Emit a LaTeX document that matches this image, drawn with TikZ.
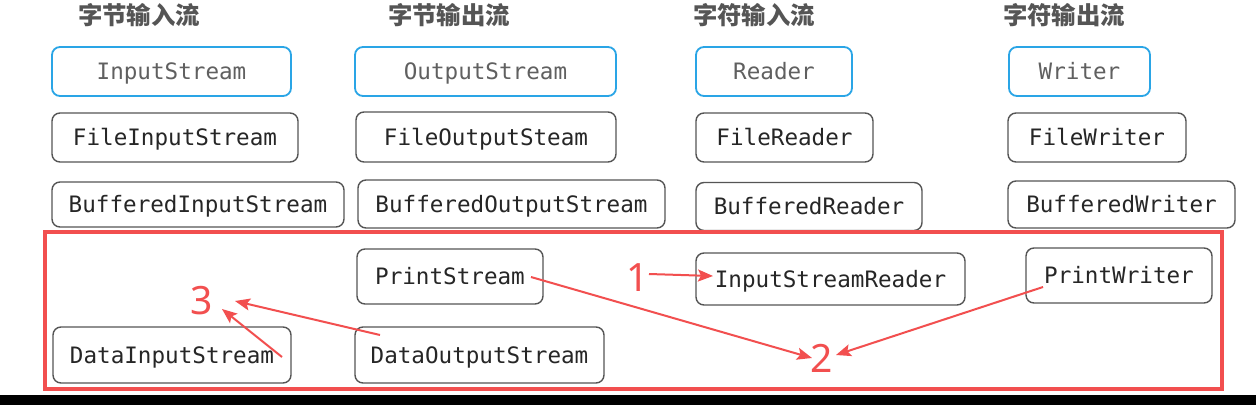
\documentclass[tikz,border=0pt]{standalone}
\usepackage{fontspec}
\setmonofont{DejaVu Sans Mono}
\newfontfamily\cjk{Noto Sans CJK SC}
\newfontfamily\numfont{Noto Sans}
\usetikzlibrary{arrows.meta}
\definecolor{boxblue}{HTML}{2AA5E6}
\definecolor{boxgrey}{HTML}{555555}
\definecolor{txtdark}{HTML}{262626}
\definecolor{txtgrey}{HTML}{606060}
\definecolor{headgrey}{HTML}{555555}
\definecolor{markred}{HTML}{F24F4F}
\tikzset{
  cls/.style={draw=boxgrey, line width=1.4pt, rounded corners=8pt, inner sep=0pt,
    text height=16.5pt, text depth=0pt,
    text=txtdark, font=\ttfamily\fontsize{22.6}{26}\selectfont},
  basecls/.style={cls, draw=boxblue, line width=1.8pt, text=txtgrey},
  head/.style={text=headgrey, font=\cjk\bfseries\fontsize{24.4}{28}\selectfont},
  num/.style={text=markred, font=\numfont\fontsize{39}{44}\selectfont, inner sep=0pt},
  redarrow/.style={draw=markred, line width=2pt, -{Stealth[length=15pt,width=12pt,inset=3pt]}}
}
\begin{document}
\begin{tikzpicture}[x=1pt,y=-1pt]
\useasboundingbox (0,0) rectangle (1256,405);
\fill[white] (0,0) rectangle (1256,405);
% headings
\node[head] (h1) at (139,15) {字节输入流};
\node[head] (h2) at (449,15) {字节输出流};
\node[head] (h3) at (754,15) {字符输入流};
\node[head] (h4) at (1064,15) {字符输出流};
% base classes
\node[basecls, minimum width=239, minimum height=49] (is) at (171.5,71.5) {InputStream};
\node[basecls, minimum width=261, minimum height=49] (os) at (485.5,71.5) {OutputStream};
\node[basecls, minimum width=156, minimum height=49] (rd) at (774,71.5) {Reader};
\node[basecls, minimum width=141, minimum height=49] (wr) at (1079.5,71.5) {Writer};
% file classes
\node[cls, minimum width=246, minimum height=49] (fis) at (175,137.5) {FileInputStream};
\node[cls, minimum width=260, minimum height=50] (fos) at (486,137) {FileOutputSteam};
\node[cls, minimum width=177, minimum height=49] (fr) at (784.5,137.5) {FileReader};
\node[cls, minimum width=178, minimum height=49] (fw) at (1097,137.5) {FileWriter};
% buffered classes
\node[cls, minimum width=292, minimum height=45] (bis) at (198,204.5) {BufferedInputStream};
\node[cls, minimum width=307, minimum height=48] (bos) at (511.5,204) {BufferedOutputStream};
\node[cls, minimum width=226, minimum height=48] (br) at (809,206.5) {BufferedReader};
\node[cls, minimum width=227, minimum height=47] (bw) at (1121.5,204.5) {BufferedWriter};
% red frame
\draw[markred, line width=4pt] (45,232) rectangle (1222,389);
% special classes
\node[cls, minimum width=186, minimum height=55] (ps) at (450,276.5) {PrintStream};
\node[cls, minimum width=269, minimum height=52] (isr) at (830.5,279) {InputStreamReader};
\node[cls, minimum width=186, minimum height=55] (pw) at (1119,275.5) {PrintWriter};
\node[cls, minimum width=238, minimum height=56] (dis) at (172,355) {DataInputStream};
\node[cls, minimum width=249, minimum height=56] (dos) at (479.5,355) {DataOutputStream};
% number labels
\node[num] (n1) at (638,278) {1};
\node[num] (n2) at (822,358) {2};
\node[num] (n3) at (202,301) {3};
% arrow end points
\coordinate (a1s) at (649,274);
\coordinate (a1e) at (713,276);
\coordinate (a2s) at (531,277);
\coordinate (a2e) at (812,358);
\coordinate (a2bs) at (1043,287);
\coordinate (a2be) at (836,355);
\coordinate (a3s) at (380,335);
\coordinate (a3e) at (235,301);
\coordinate (a3bs) at (282,357);
\coordinate (a3be) at (222,309);
\draw[redarrow] (a1s) -- (a1e);
\draw[redarrow] (a2s) -- (a2e);
\draw[redarrow] (a2bs) -- (a2be);
\draw[redarrow] (a3s) -- (a3e);
\draw[redarrow] (a3bs) -- (a3be);
% bottom bar
\fill[black] (0,395) rectangle (1256,405);
\end{tikzpicture}
\end{document}
